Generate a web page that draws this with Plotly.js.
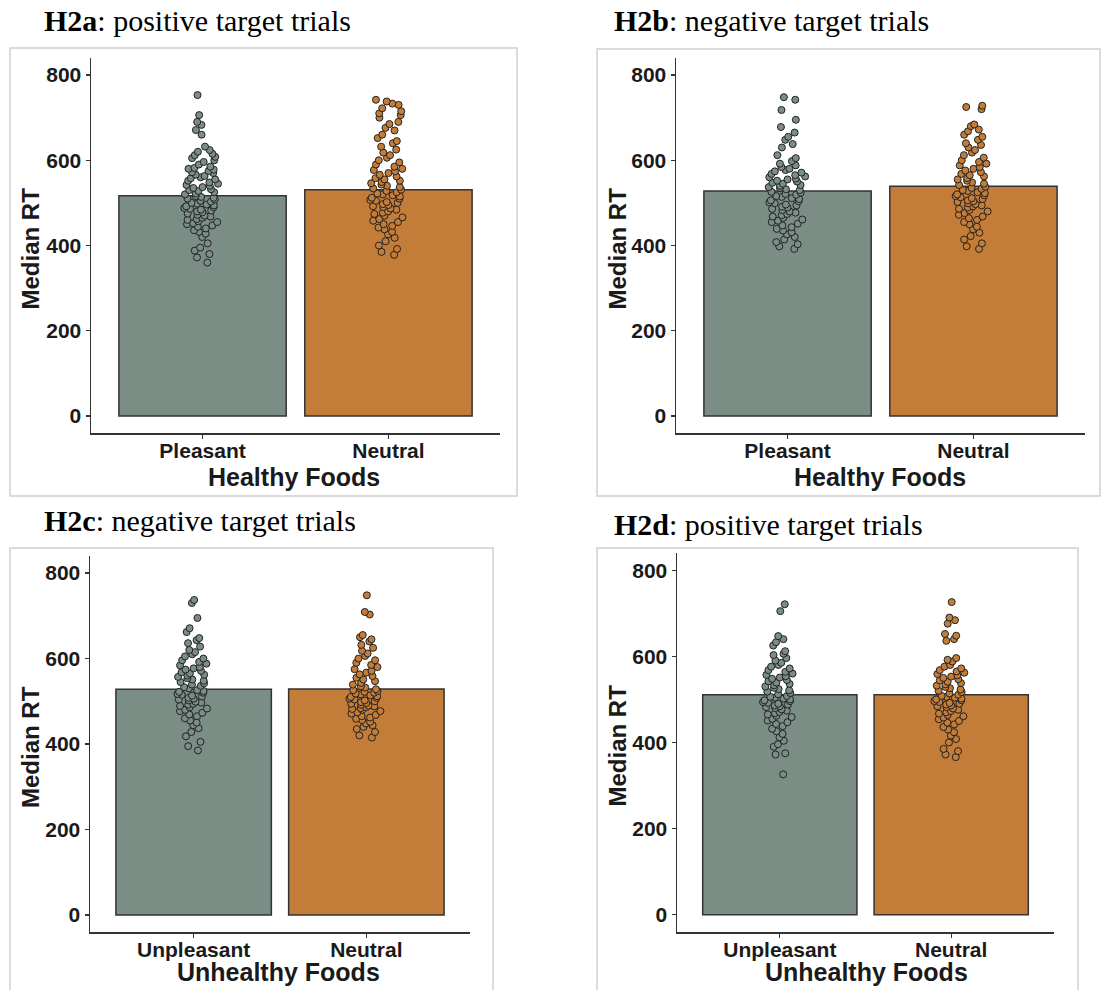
<!DOCTYPE html>
<html><head><meta charset="utf-8">
<script src="https://cdn.plot.ly/plotly-3.0.1.min.js"></script>
<style>body{margin:0;background:#fff}#chart{width:1103px;height:990px}</style>
</head><body><div id="chart"></div>
<script>
// ---------- data ----------
const catsHealthy = ['Pleasant', 'Neutral'];
const catsUnhealthy = ['Unpleasant', 'Neutral'];
const xTitleHealthy = 'Healthy Foods';
const xTitleUnhealthy = 'Unhealthy Foods';
const yTitle = 'Median RT';
const yTicks = [0, 200, 400, 600, 800];

const titleCodes = ['H2a', 'H2b', 'H2c', 'H2d'];
const titleTexts = [': positive target trials', ': negative target trials', ': negative target trials', ': positive target trials'];

const barsH2a = [517, 531];
const barsH2b = [528, 539];
const barsH2c = [528, 529];
const barsH2d = [511, 511];

const h2aPleasant = [753, 706, 690, 683, 671, 660, 632, 624, 620, 615, 612, 608, 605, 600, 596, 590, 585, 582, 580, 578, 575, 572, 570, 566, 563, 560, 558, 555, 552, 548, 545, 542, 540, 537, 535, 532, 530, 528, 525, 522, 520,
  516, 514, 512, 510, 508, 505, 503, 500, 498, 496, 494, 492, 490, 488, 486, 484, 482, 480, 478, 475, 472, 470, 468, 465, 462, 460, 457, 455, 452, 450, 447, 444, 440, 436, 432, 428, 420, 405, 395, 388, 380, 372, 360];
const h2aNeutral = [742, 738, 733, 730, 722, 715, 710, 706, 700, 690, 685, 676, 670, 660, 652, 645, 640, 632, 625, 618, 612, 606, 600, 595, 590, 585, 580, 577, 574, 570, 566, 562, 558, 555, 552, 549, 546, 543, 540, 537, 534, 531,
  528, 525, 522, 520, 518, 515, 512, 510, 507, 505, 502, 500, 497, 495, 492, 490, 487, 484, 480, 477, 474, 470, 466, 462, 458, 455, 450, 446, 442, 438, 432, 426, 418, 410, 400, 392, 385, 378];
const h2bPleasant = [748, 742, 718, 695, 678, 665, 655, 648, 638, 630, 612, 605, 598, 592, 588, 584, 580, 577, 574, 571, 568, 565, 562, 560, 557, 555, 552, 550, 547, 545, 542, 540, 537, 535, 532, 530,
  526, 524, 521, 519, 516, 514, 511, 509, 506, 504, 501, 499, 496, 494, 491, 489, 486, 483, 480, 477, 474, 471, 468, 465, 461, 458, 455, 451, 447, 443, 439, 435, 431, 426, 420, 414, 408, 403, 398, 392];
const h2bNeutral = [728, 725, 720, 684, 680, 672, 668, 660, 655, 648, 640, 636, 630, 624, 618, 612, 606, 600, 596, 592, 588, 584, 580, 576, 572, 568, 565, 562, 558, 555, 552, 548, 545, 542,
  538, 535, 533, 530, 528, 525, 523, 520, 518, 516, 513, 511, 509, 506, 504, 502, 499, 497, 494, 492, 489, 486, 483, 480, 476, 472, 468, 464, 460, 455, 450, 444, 438, 430, 422, 414, 405, 398, 392];
const h2cUnpleasant = [737, 730, 695, 671, 662, 648, 643, 636, 628, 620, 615, 610, 605, 600, 596, 592, 588, 584, 580, 577, 574, 571, 568, 565, 562, 560, 557, 554, 551, 548, 545, 542, 539, 536, 533, 530,
  526, 524, 522, 520, 517, 515, 513, 511, 508, 506, 504, 502, 499, 497, 494, 492, 489, 486, 483, 480, 477, 473, 469, 465, 460, 455, 450, 444, 437, 428, 418, 405, 395, 385];
const h2cNeutral = [748, 709, 703, 655, 650, 645, 640, 632, 625, 618, 612, 606, 600, 596, 590, 585, 580, 575, 571, 567, 563, 559, 555, 551, 547, 543, 539, 535, 532,
  528, 526, 524, 522, 520, 518, 516, 514, 512, 510, 508, 506, 504, 502, 500, 498, 496, 494, 492, 490, 488, 486, 484, 482, 480, 477, 474, 471, 468, 465, 462, 459, 456, 452, 448, 444, 440, 435, 428, 420, 415];
const h2dUnpleasant = [721, 705, 647, 640, 633, 625, 612, 606, 603, 596, 590, 585, 580, 576, 572, 568, 564, 560, 557, 554, 551, 548, 545, 542, 539, 536, 533, 530, 527, 524, 521, 518, 515, 512,
  508, 506, 504, 502, 500, 498, 496, 494, 492, 490, 488, 486, 484, 482, 480, 477, 474, 471, 468, 465, 462, 459, 455, 451, 447, 443, 438, 432, 426, 420, 412, 404, 396, 390, 375, 372, 326];
const h2dNeutral = [726, 690, 684, 676, 652, 648, 640, 636, 596, 592, 588, 580, 576, 572, 568, 565, 562, 559, 556, 553, 550, 547, 544, 541, 538, 535, 532, 529, 526, 523, 520, 517, 514, 511,
  508, 506, 504, 502, 500, 498, 496, 494, 492, 490, 488, 486, 484, 482, 479, 476, 473, 470, 467, 464, 461, 458, 454, 450, 446, 442, 436, 430, 424, 416, 408, 400, 385, 380, 372, 366];

// ---------- layout helpers ----------
const W = 1103, H = 990;
const px = v => v / W;
const py = v => 1 - v / H;
const colA = '#7a8e86';
const colB = '#c47d38';
const edge = '#333333';

const panels = [
  {cats: catsHealthy, bars: barsH2a, pts: [h2aPleasant, h2aNeutral], xt: xTitleHealthy,
   xd: [91, 500], yd: [58, 433], box: [10, 48, 517, 496], title: [42, 20], ytx: 30, xtx: 294, xty: 477},
  {cats: catsHealthy, bars: barsH2b, pts: [h2bPleasant, h2bNeutral], xt: xTitleHealthy,
   xd: [676, 1085], yd: [58, 433], box: [597, 49, 1100, 496], title: [612, 20], ytx: 617, xty: 477, xtx: 880},
  {cats: catsUnhealthy, bars: barsH2c, pts: [h2cUnpleasant, h2cNeutral], xt: xTitleUnhealthy,
   xd: [90, 470], yd: [556, 932], box: [10, 548, 493, 992], title: [42, 520], ytx: 30, xty: 972, xtx: 278},
  {cats: catsUnhealthy, bars: barsH2d, pts: [h2dUnpleasant, h2dNeutral], xt: xTitleUnhealthy,
   xd: [677, 1054], yd: [553, 932], box: [597, 548, 1078, 992], title: [612, 524], ytx: 617, xty: 972, xtx: 866}
];

const tickFont = {family: 'Liberation Sans, Arial, sans-serif', size: 21, weight: 'bold', color: '#1a1a1a'};
const xTitleFont = {family: 'Liberation Sans, Arial, sans-serif', size: 25, weight: 'bold', color: '#1a1a1a'};
const yTitleFont = {family: 'Liberation Sans, Arial, sans-serif', size: 24, weight: 'bold', color: '#1a1a1a'};
const headFont = {family: 'Liberation Serif, Times New Roman, serif', size: 30, color: '#000'};

const traces = [];
const layout = {
  width: W, height: H, margin: {l: 0, r: 0, t: 0, b: 0},
  paper_bgcolor: '#fff', plot_bgcolor: 'rgba(0,0,0,0)',
  showlegend: false, boxmode: 'overlay', bargap: 0.1,
  shapes: [], annotations: []
};

panels.forEach((p, i) => {
  const n = i === 0 ? '' : String(i + 1);
  const xa = 'x' + n, ya = 'y' + n;
  layout['xaxis' + n] = {
    type: 'category', categoryorder: 'array', categoryarray: p.cats,
    domain: [px(p.xd[0]), px(p.xd[1])], range: [-0.6, 1.6], anchor: ya,
    showline: true, linecolor: edge, linewidth: 1.5, ticks: 'outside', ticklen: 4, tickwidth: 1.2, tickcolor: edge,
    tickfont: tickFont, ticklabelstandoff: -6, showgrid: false, zeroline: false, fixedrange: true
  };
  layout['yaxis' + n] = {
    domain: [py(p.yd[1]), py(p.yd[0])], range: [-40, 840], anchor: xa,
    tickvals: yTicks, ticktext: yTicks.map(String),
    showline: true, linecolor: edge, linewidth: 1.5, ticks: 'outside', ticklen: 4, tickwidth: 1.2, tickcolor: edge,
    tickfont: tickFont, showgrid: false, zeroline: false, fixedrange: true
  };
  traces.push({
    type: 'bar', x: p.cats, y: p.bars, xaxis: xa, yaxis: ya, width: 0.9,
    marker: {color: [colA, colB], line: {color: edge, width: 1.5}}, hoverinfo: 'skip'
  });
  p.pts.forEach((vals, k) => {
    traces.push({
      type: 'box', x: vals.map(() => p.cats[k]), y: vals, xaxis: xa, yaxis: ya,
      boxpoints: 'all', jitter: 0.42, pointpos: 0, width: 0.5,
      fillcolor: 'rgba(0,0,0,0)', line: {color: 'rgba(0,0,0,0)', width: 0}, whiskerwidth: 0,
      marker: {color: k === 0 ? colA : colB, size: 7, opacity: 1, line: {color: '#222', width: 1}},
      hoverinfo: 'skip'
    });
  });
  layout.shapes.push({
    type: 'rect', xref: 'paper', yref: 'paper', layer: 'below',
    x0: px(p.box[0]), x1: px(p.box[2]), y0: py(p.box[3]), y1: py(p.box[1]),
    line: {color: '#d0d0d0', width: 1.5}
  });
  layout.annotations.push({
    xref: 'paper', yref: 'paper', x: px(p.title[0]), y: py(p.title[1]), xanchor: 'left', yanchor: 'middle',
    text: '<b>' + titleCodes[i] + '</b>' + titleTexts[i], showarrow: false, font: headFont
  });
  layout.annotations.push({
    xref: 'paper', yref: 'paper', x: px(p.ytx), y: py((p.yd[0] + p.yd[1]) / 2 + 3), xanchor: 'center', yanchor: 'middle',
    text: yTitle, textangle: -90, showarrow: false, font: yTitleFont
  });
  layout.annotations.push({
    xref: 'paper', yref: 'paper', x: px(p.xtx), y: py(p.xty), xanchor: 'center', yanchor: 'middle',
    text: p.xt, showarrow: false, font: xTitleFont
  });
});

Plotly.newPlot('chart', traces, layout, {displayModeBar: false, staticPlot: true});
</script>
</body></html>
